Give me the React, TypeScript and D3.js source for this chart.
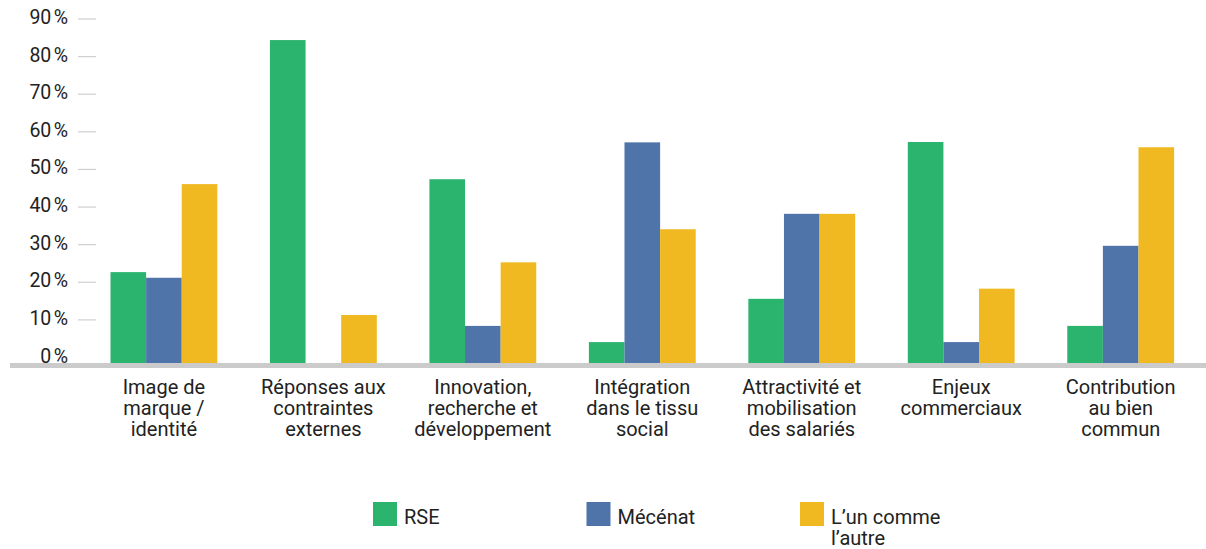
import React from "react";
import * as d3 from "d3";

const categories = [
  "Image de marque / identité",
  "Réponses aux contraintes externes",
  "Innovation, recherche et développement",
  "Intégration dans le tissu social",
  "Attractivité et mobilisation des salariés",
  "Enjeux commerciaux",
  "Contribution au bien commun",
];
const categoryLines = [
  ["Image de", "marque /", "identité"],
  ["Réponses aux", "contraintes", "externes"],
  ["Innovation,", "recherche et", "développement"],
  ["Intégration", "dans le tissu", "social"],
  ["Attractivité et", "mobilisation", "des salariés"],
  ["Enjeux", "commerciaux"],
  ["Contribution", "au bien", "commun"],
];
const seriesNames = ["RSE", "Mécénat", "L’un comme l’autre"];
const legendLines = [["RSE"], ["Mécénat"], ["L’un comme", "l’autre"]];
const rse = [22.7, 84.4, 47.4, 4.1, 15.6, 57.3, 8.4];
const mecenat = [21.2, 0, 8.4, 57.2, 38.2, 4.1, 29.7];
const lunLautre = [46.1, 11.3, 25.3, 34.1, 38.2, 18.3, 55.9];
const yTicks = [0, 10, 20, 30, 40, 50, 60, 70, 80, 90];
const colors = ["#2bb46e", "#4f74aa", "#f0b921"];

const W = 1206;
const H = 549;
const FONT = "Roboto, 'Noto Sans', sans-serif";

export default function App() {
  const values = [rse, mecenat, lunLautre];
  const x0 = d3
    .scaleBand<string>()
    .domain(categories)
    .range([78.6, 1206])
    .paddingInner(0.33)
    .paddingOuter(0.2);
  const x1 = d3
    .scaleBand<string>()
    .domain(seriesNames)
    .range([0, x0.bandwidth()]);
  const y = d3.scaleLinear().domain([0, 90]).range([357.5, 19]);
  const baseline = 363;

  return (
    <svg
      width={W}
      height={H}
      style={{ position: "absolute", left: 0, top: 0, background: "#fff" }}
      fontFamily={FONT}
    >
      {/* y ticks */}
      {yTicks.map((t) => (
        <g key={t}>
          {t > 0 && (
            <line x1={78} x2={96} y1={y(t)} y2={y(t)} stroke="#cfcfcf" strokeWidth={1.2} />
          )}
          <text
            x={68}
            y={y(t) - 1.5}
            textAnchor="end"
            dominantBaseline="central"
            fontSize={19.5}
            fill="#222"
          >
            {`${t}\u202F%`}
          </text>
        </g>
      ))}
      {/* bars */}
      {categories.map((c, i) => (
        <g key={c} transform={`translate(${x0(c)},0)`}>
          {seriesNames.map((s, j) => {
            const v = values[j][i];
            if (!v) return null;
            return (
              <rect
                key={s}
                x={x1(s)}
                y={y(v)}
                width={x1.bandwidth()}
                height={baseline - y(v)}
                fill={colors[j]}
              />
            );
          })}
        </g>
      ))}
      {/* axis band */}
      <rect x={10} y={baseline} width={W - 10} height={5} fill="#cbcbcb" />
      {/* category labels */}
      {categories.map((c, i) => (
        <text
          key={c}
          x={(x0(c) as number) + x0.bandwidth() / 2}
          textAnchor="middle"
          fontSize={20}
          fill="#222"
        >
          {categoryLines[i].map((l, k) => (
            <tspan key={k} x={(x0(c) as number) + x0.bandwidth() / 2} y={393.5 + k * 21.2}>
              {l}
            </tspan>
          ))}
        </text>
      ))}
      {/* legend */}
      {seriesNames.map((s, j) => {
        const lx = 373 + j * 213.5;
        return (
          <g key={s}>
            <rect x={lx} y={502} width={24} height={24} fill={colors[j]} />
            <text x={lx + 31} fontSize={20} fill="#222">
              {legendLines[j].map((l, k) => (
                <tspan key={k} x={lx + 31} y={524 + k * 21}>
                  {l}
                </tspan>
              ))}
            </text>
          </g>
        );
      })}
    </svg>
  );
}
